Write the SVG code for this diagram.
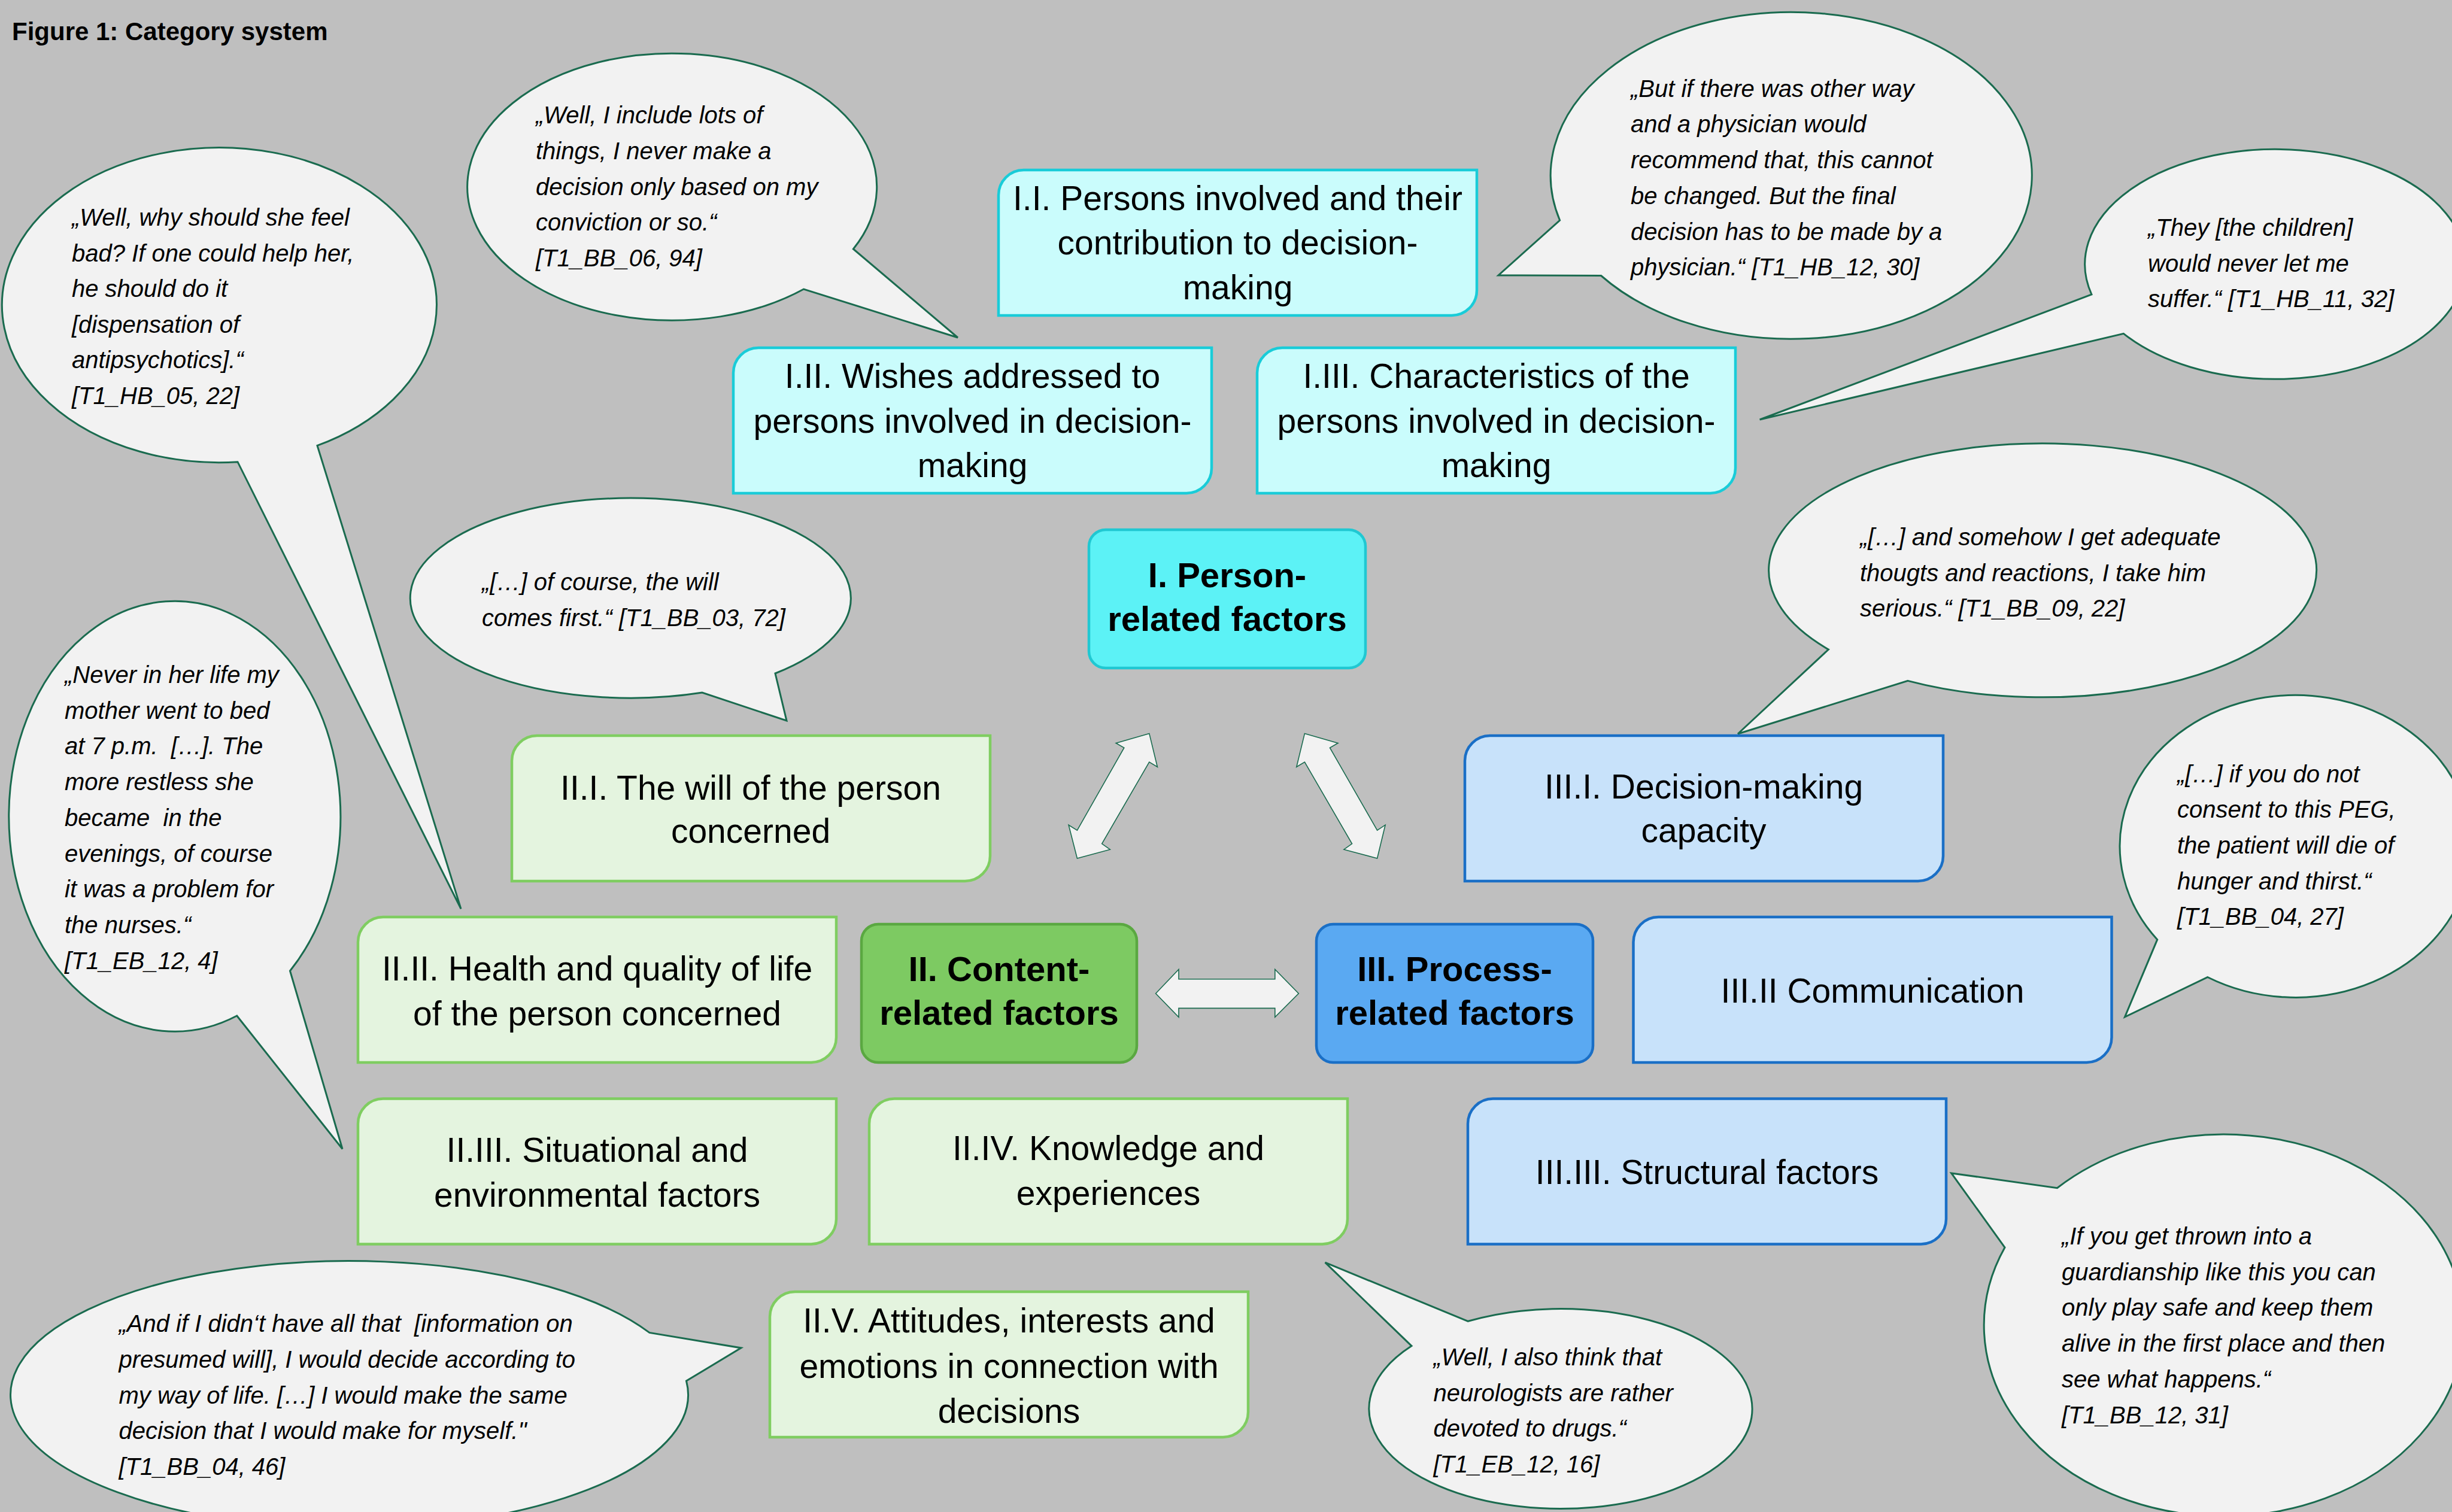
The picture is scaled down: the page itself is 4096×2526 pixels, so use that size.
<svg xmlns="http://www.w3.org/2000/svg" width="4096" height="2526" viewBox="0 0 4096 2526">
<style>
.q{font-family:"Liberation Sans",Arial,sans-serif;font-style:italic;font-size:40px;fill:#000}
.t{font-family:"Liberation Sans",Arial,sans-serif;font-size:57px;text-anchor:middle;fill:#000}
.m{font-family:"Liberation Sans",Arial,sans-serif;font-weight:bold;font-size:58px;text-anchor:middle;fill:#000}
.ttl{font-family:"Liberation Sans",Arial,sans-serif;font-weight:bold;font-size:42px;fill:#000}
.bub{fill:#f2f2f2;stroke:#1a6b4f;stroke-width:3;stroke-linejoin:miter}
.arr{fill:#f2f2f2;stroke:#1a6b4f;stroke-width:1.6;stroke-linejoin:miter}
.cyL{fill:#cafcfc;stroke:#19ccd8;stroke-width:4.5}
.cyM{fill:#5cf2f6;stroke:#20c8d2;stroke-width:4.5}
.grL{fill:#e4f4df;stroke:#7fcd61;stroke-width:4.5}
.grM{fill:#7dca62;stroke:#5aa841;stroke-width:4.5}
.blL{fill:#c8e2fa;stroke:#1a6fc6;stroke-width:4.5}
.blM{fill:#5aa9f2;stroke:#1a6fc6;stroke-width:4.5}
</style>
<rect x="0" y="0" width="4096" height="2526" fill="#bfbfbf"/>
<text class="ttl" x="20" y="67">Figure 1: Category system</text>

<g id="bubble-A">
<path class="bub" d="M397,771.7 A363,263 0 1 1 530,744.4 L770,1518.4 Z"/>
<text class="q"><tspan x="120" y="377">„Well, why should she feel</tspan><tspan x="120" y="436.6">bad? If one could help her,</tspan><tspan x="120" y="496.2">he should do it</tspan><tspan x="120" y="555.8">[dispensation of</tspan><tspan x="120" y="615.4">antipsychotics].“</tspan><tspan x="120" y="675">[T1_HB_05, 22]</tspan></text>
</g>
<g id="bubble-B">
<path class="bub" d="M1342.6,483 A342,223 0 1 1 1425.4,416 L1600,564 Z"/>
<text class="q"><tspan x="895" y="206">„Well, I include lots of</tspan><tspan x="895" y="265.8">things, I never make a</tspan><tspan x="895" y="325.5">decision only based on my</tspan><tspan x="895" y="385">conviction or so.“</tspan><tspan x="895" y="445">[T1_BB_06, 94]</tspan></text>
</g>
<g id="bubble-C">
<path class="bub" d="M2605.6,368 A402,273 0 1 1 2674.5,460.5 L2503,460 Z"/>
<text class="q"><tspan x="2724" y="161.7">„But if there was other way</tspan><tspan x="2724" y="221.4">and a physician would</tspan><tspan x="2724" y="281">recommend that, this cannot</tspan><tspan x="2724" y="340.8">be changed. But the final</tspan><tspan x="2724" y="400.5">decision has to be made by a</tspan><tspan x="2724" y="460">physician.“ [T1_HB_12, 30]</tspan></text>
</g>
<g id="bubble-D">
<path class="bub" d="M3494,492 A318,192 0 1 1 3547.4,557.4 L2939.6,701 Z"/>
<text class="q"><tspan x="3588" y="394">„They [the children]</tspan><tspan x="3588" y="453.5">would never let me</tspan><tspan x="3588" y="513">suffer.“ [T1_HB_11, 32]</tspan></text>
</g>
<g id="bubble-E">
<path class="bub" d="M1173,1157 A368,167 0 1 1 1295,1125 L1314,1204 Z"/>
<text class="q"><tspan x="805" y="986">„[…] of course, the will</tspan><tspan x="805" y="1046">comes first.“ [T1_BB_03, 72]</tspan></text>
</g>
<g id="bubble-F">
<path class="bub" d="M3054.4,1085 A457.5,212 0 1 1 3187,1137.4 L2903,1226 Z"/>
<text class="q"><tspan x="3107" y="911">„[…] and somehow I get adequate</tspan><tspan x="3107" y="970.5">thougts and reactions, I take him</tspan><tspan x="3107" y="1030">serious.“ [T1_BB_09, 22]</tspan></text>
</g>
<g id="bubble-G">
<path class="bub" d="M395.7,1697 A277,359.5 0 1 1 484.5,1622 L572,1919.5 Z"/>
<text class="q" xml:space="preserve"><tspan x="108" y="1141">„Never in her life my</tspan><tspan x="108" y="1200.7">mother went to bed</tspan><tspan x="108" y="1260.4">at 7 p.m.  […]. The</tspan><tspan x="108" y="1320.1">more restless she</tspan><tspan x="108" y="1379.8">became  in the</tspan><tspan x="108" y="1439.5">evenings, of course</tspan><tspan x="108" y="1499.2">it was a problem for</tspan><tspan x="108" y="1558.9">the nurses.“</tspan><tspan x="108" y="1618.6">[T1_EB_12, 4]</tspan></text>
</g>
<g id="bubble-H">
<path class="bub" d="M3603.7,1569.7 A293.5,252.5 0 1 1 3687.8,1632.5 L3549.5,1699 Z"/>
<text class="q"><tspan x="3637" y="1306.6">„[…] if you do not</tspan><tspan x="3637" y="1366.3">consent to this PEG,</tspan><tspan x="3637" y="1426">the patient will die of</tspan><tspan x="3637" y="1485.7">hunger and thirst.“</tspan><tspan x="3637" y="1545.4">[T1_BB_04, 27]</tspan></text>
</g>
<g id="bubble-I">
<path class="bub" d="M3436.4,1984.7 A400.7,319 0 1 1 3349,2084 L3259.7,1959.9 Z"/>
<text class="q"><tspan x="3444" y="2079">„If you get thrown into a</tspan><tspan x="3444" y="2138.7">guardianship like this you can</tspan><tspan x="3444" y="2198.4">only play safe and keep them</tspan><tspan x="3444" y="2258.1">alive in the first place and then</tspan><tspan x="3444" y="2317.8">see what happens.“</tspan><tspan x="3444" y="2377.5">[T1_BB_12, 31]</tspan></text>
</g>
<g id="bubble-J">
<path class="bub" d="M1146.5,2307 A566,223.4 0 1 1 1084.9,2226.4 L1238,2251.9 Z"/>
<text class="q" xml:space="preserve"><tspan x="198.5" y="2225.3">„And if I didn‘t have all that  [information on</tspan><tspan x="198.5" y="2285">presumed will], I would decide according to</tspan><tspan x="198.5" y="2344.7">my way of life. […] I would make the same</tspan><tspan x="198.5" y="2404.4">decision that I would make for myself."</tspan><tspan x="198.5" y="2464.1">[T1_BB_04, 46]</tspan></text>
</g>
<g id="bubble-K">
<path class="bub" d="M2452.3,2207.3 A320,167 0 1 1 2358,2248.6 L2213.6,2109.2 Z"/>
<text class="q"><tspan x="2394.5" y="2281">„Well, I also think that</tspan><tspan x="2394.5" y="2340.7">neurologists are rather</tspan><tspan x="2394.5" y="2400.4">devoted to drugs.“</tspan><tspan x="2394.5" y="2460">[T1_EB_12, 16]</tspan></text>
</g>

<g id="node-I-I">
<path class="cyL" d="M1710,284 h757 v201 a42,42 0 0 1 -42,42 h-757 v-201 a42,42 0 0 1 42,-42 z"/>
<text class="t"><tspan x="2067.5" y="350.7">I.I. Persons involved and their</tspan><tspan x="2067.5" y="424.7">contribution to decision-</tspan><tspan x="2067.5" y="499.5">making</tspan></text>
</g>
<g id="node-I-II">
<path class="cyL" d="M1267,581 h757 v201 a42,42 0 0 1 -42,42 h-757 v-201 a42,42 0 0 1 42,-42 z"/>
<text class="t"><tspan x="1624.5" y="648">I.II. Wishes addressed to</tspan><tspan x="1624.5" y="722.5">persons involved in decision-</tspan><tspan x="1624.5" y="797">making</tspan></text>
</g>
<g id="node-I-III">
<path class="cyL" d="M2142,581 h757 v201 a42,42 0 0 1 -42,42 h-757 v-201 a42,42 0 0 1 42,-42 z"/>
<text class="t"><tspan x="2499.5" y="648">I.III. Characteristics of the</tspan><tspan x="2499.5" y="722.5">persons involved in decision-</tspan><tspan x="2499.5" y="797">making</tspan></text>
</g>
<g id="node-I">
<rect class="cyM" x="1819" y="885" width="462" height="231" rx="28" ry="28"/>
<text class="m"><tspan x="2050" y="981">I. Person-</tspan><tspan x="2050" y="1053.5">related factors</tspan></text>
</g>
<g id="node-II-I">
<path class="grL" d="M897,1229 h757 v201 a42,42 0 0 1 -42,42 h-757 v-201 a42,42 0 0 1 42,-42 z"/>
<text class="t"><tspan x="1254" y="1335.5">II.I. The will of the person</tspan><tspan x="1254" y="1408">concerned</tspan></text>
</g>
<g id="node-III-I">
<path class="blL" d="M2489,1229 h757 v201 a42,42 0 0 1 -42,42 h-757 v-201 a42,42 0 0 1 42,-42 z"/>
<text class="t"><tspan x="2846" y="1333.5">III.I. Decision-making</tspan><tspan x="2846" y="1407">capacity</tspan></text>
</g>
<g id="node-II-II">
<path class="grL" d="M640,1532 h757 v201 a42,42 0 0 1 -42,42 h-757 v-201 a42,42 0 0 1 42,-42 z"/>
<text class="t"><tspan x="997.5" y="1638">II.II. Health and quality of life</tspan><tspan x="997.5" y="1713">of the person concerned</tspan></text>
</g>
<g id="node-II">
<rect class="grM" x="1439" y="1544" width="460" height="231" rx="28" ry="28"/>
<text class="m"><tspan x="1669" y="1639">II. Content-</tspan><tspan x="1669" y="1711.6">related factors</tspan></text>
</g>
<g id="node-III">
<rect class="blM" x="2199" y="1544" width="462" height="231" rx="28" ry="28"/>
<text class="m"><tspan x="2430" y="1639">III. Process-</tspan><tspan x="2430" y="1711.6">related factors</tspan></text>
</g>
<g id="node-III-II">
<path class="blL" d="M2770.5,1532 h757 v201 a42,42 0 0 1 -42,42 h-757 v-201 a42,42 0 0 1 42,-42 z"/>
<text class="t" x="3128" y="1674.8">III.II Communication</text>
</g>
<g id="node-II-III">
<path class="grL" d="M640,1835.5 h757 v201 a42,42 0 0 1 -42,42 h-757 v-201 a42,42 0 0 1 42,-42 z"/>
<text class="t"><tspan x="997.5" y="1941">II.III. Situational and</tspan><tspan x="997.5" y="2016">environmental factors</tspan></text>
</g>
<g id="node-II-IV">
<path class="grL" d="M1494,1835.5 h757 v201 a42,42 0 0 1 -42,42 h-757 v-201 a42,42 0 0 1 42,-42 z"/>
<text class="t"><tspan x="1851.5" y="1938">II.IV. Knowledge and</tspan><tspan x="1851.5" y="2013">experiences</tspan></text>
</g>
<g id="node-III-III">
<path class="blL" d="M2494,1835.5 h757 v201 a42,42 0 0 1 -42,42 h-757 v-201 a42,42 0 0 1 42,-42 z"/>
<text class="t" x="2851.5" y="1978.3">III.III. Structural factors</text>
</g>
<g id="node-II-V">
<path class="grL" d="M1328,2158 h757 v201 a42,42 0 0 1 -42,42 h-757 v-201 a42,42 0 0 1 42,-42 z"/>
<text class="t"><tspan x="1685.5" y="2226">II.V. Attitudes, interests and</tspan><tspan x="1685.5" y="2301.5">emotions in connection with</tspan><tspan x="1685.5" y="2376.5">decisions</tspan></text>
</g>

<g id="connectors">
<polygon class="arr" points="1919.8,1225.4 1933.4,1281.3 1919.8,1273 1840.7,1409.6 1854.3,1419.2 1799.4,1434 1785.1,1378.2 1799.4,1387.2 1877.8,1249.2 1864.2,1241.5"/>
<polygon class="arr" points="2179.4,1225.4 2235,1241.5 2221.5,1249.2 2300.6,1387.2 2314.1,1378.2 2300.6,1434 2245,1419.2 2258.5,1409.6 2179.4,1273 2165.8,1281.3"/>
<polygon class="arr" points="1930.6,1659.8 1969,1619.5 1969,1635.8 2129.8,1635.8 2129.8,1619.5 2169.3,1659.8 2129.8,1699.3 2129.8,1684.4 1969,1684.4 1969,1699.3"/>
</g>
</svg>
